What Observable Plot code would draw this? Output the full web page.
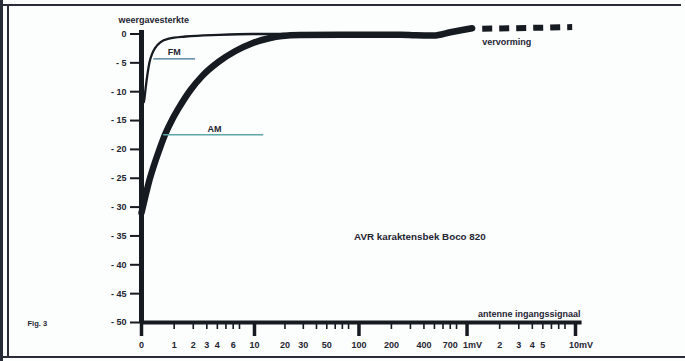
<!DOCTYPE html>
<html><head><meta charset="utf-8">
<script src="https://cdn.jsdelivr.net/npm/d3@7"></script>
<script src="https://cdn.jsdelivr.net/npm/@observablehq/plot@0.6"></script>
<style>
html,body{margin:0;padding:0;background:#fcfdfd;}
#wrap{position:relative;width:685px;height:361px;overflow:hidden;background:#fcfdfd;}
#wrap svg{position:absolute;left:0;top:0;}
.fr{position:absolute;background:#272c36;z-index:2;}
</style></head><body>
<div id="wrap">
<div class="fr" style="left:0;top:0;width:3px;height:361px"></div>
<div class="fr" style="left:7px;top:4px;width:1.5px;height:354px"></div>
<div class="fr" style="left:0;top:3.5px;width:681px;height:2px"></div>
<div class="fr" style="left:0;top:356px;width:685px;height:2px"></div>
</div>
<script>
// FM curve (antenna input in µV, relative output level in dB)
const fmX = [0, 0.05, 0.09, 0.13, 0.185, 0.255, 0.35, 0.5, 0.79, 1.55, 4.2, 9.5, 20];
const fmY = [-12, -11.8, -9.5, -7.2, -4.9, -3.4, -2.3, -1.4, -0.8, -0.43, -0.14, 0, 0];
// AM curve
const amX = [0, 0.09, 0.18, 0.29, 0.47, 0.66, 0.91, 1.21, 1.83, 2.62, 4.16, 6.35, 9.5, 14, 18.8, 28, 68, 243, 334, 493, 703, 932, 1115];
const amY = [-31, -28, -25.4, -23, -19.9, -17.3, -14.9, -12.8, -9.7, -7.3, -4.8, -2.95, -1.6, -0.73, -0.35, -0.19, -0.14, -0.12, -0.22, -0.26, 0.3, 0.73, 1.0];
// distortion region (dashed)
const distX = [1380, 9320];
const distY = [0.9, 1.2];
// axes
const yTicks = [0, -5, -10, -15, -20, -25, -30, -35, -40, -45, -50];
const xMajorTicks = [0, 10, 100, 1000, 10000];
const xMinorTicks = [1, 2, 3, 4, 5, 6, 7, 20, 30, 40, 50, 60, 70, 80, 200, 300, 400, 500, 600, 700, 800, 2000, 3000, 4000, 5000, 6000, 7000, 8000];
const xLabelTicks = [0, 1, 2, 3, 4, 6, 10, 20, 30, 50, 100, 200, 400, 700, 2000, 3000, 4000, 5000];
const xLabelText = ["0", "1", "2", "3", "4", "6", "10", "20", "30", "50", "100", "200", "400", "700", "2", "3", "4", "5"];
const mvTicks = [1000, 10000];
const mvText = ["1mV", "10mV"];

const ink = "#161a21";
const txt = "#1f2532";
const toPts = (xs, ys) => xs.map((x, i) => ({x, y: ys[i]}));
const lab = new Map(xLabelTicks.map((d, i) => [d, xLabelText[i]]));
const mvLab = new Map(mvTicks.map((d, i) => [d, mvText[i]]));

const plot = Plot.plot({
  width: 685, height: 361,
  marginLeft: 141, marginRight: 110, marginTop: 33.5, marginBottom: 39,
  x: {type: "symlog", constant: 1, domain: [0, 10000]},
  y: {domain: [-50, 0]},
  style: {fontFamily: "'Liberation Sans', Arial, sans-serif", fontSize: "9px", fontWeight: "bold", color: txt, background: "transparent", overflow: "visible"},
  marks: [
    Plot.axisY(yTicks, {tickSize: 11, tickPadding: 4, strokeWidth: 2, stroke: ink, fill: txt, tickFormat: d => d === 0 ? "0" : "- " + (-d), label: null}),
    Plot.axisX(xMinorTicks, {tickSize: 7, strokeWidth: 1.6, stroke: ink, tickFormat: () => "", label: null}),
    Plot.axisX(xMajorTicks, {tickSize: 14, strokeWidth: 3.5, stroke: ink, tickFormat: () => "", label: null}),
    Plot.axisX(xLabelTicks, {tickSize: 0, tickPadding: 19.5, fill: txt, tickFormat: d => lab.get(d), label: null}),
    Plot.axisX(mvTicks, {tickSize: 0, tickPadding: 19.5, fill: txt, dx: 5.5, tickFormat: d => mvLab.get(d), label: null}),
    Plot.ruleY([-50], {x1: 0, x2: 11500, stroke: ink, strokeWidth: 4}),
    Plot.ruleX([0], {y1: -50, y2: 0.6, stroke: ink, strokeWidth: 5}),
    Plot.line(toPts(amX, amY), {x: "x", y: "y", stroke: ink, strokeWidth: 6.5, curve: "monotone-x", strokeLinecap: "round"}),
    Plot.line(toPts(fmX, fmY), {x: "x", y: "y", stroke: ink, strokeWidth: 2.3, curve: "monotone-x"}),
    Plot.line(toPts(distX, distY), {x: "x", y: "y", stroke: ink, strokeWidth: 6, strokeDasharray: "10,7", strokeLinecap: "butt"}),
    Plot.ruleY([-4.3], {x1: 0.3, x2: 2.15, stroke: "#3f7290", strokeWidth: 1.3}),
    Plot.ruleY([-17.45], {x1: 0.6, x2: 12.4, stroke: "#5fa6a8", strokeWidth: 1.5}),
    Plot.text(["FM"], {x: 1, y: -4.3, dy: -7, fill: txt}),
    Plot.text(["AM"], {x: 3.7, y: -17.45, dy: -5.5, fill: txt}),
    Plot.text(["weergavesterkte"], {x: 0, y: 0, dx: -23, dy: -13.5, textAnchor: "start", fill: txt}),
    Plot.text(["vervorming"], {x: 1380, y: 0, dy: 8.2, textAnchor: "start", fill: txt}),
    Plot.text(["antenne ingangssignaal"], {x: 10000, y: -50, dx: 5, dy: -8, textAnchor: "end", fill: txt}),
    Plot.text(["AVR karaktensbek Boco 820"], {x: 90, y: -35.2, textAnchor: "start", fill: txt, fontSize: 9.8}),
    Plot.text(["Fig. 3"], {x: 0, y: -50, dx: -114, dy: 1, textAnchor: "start", fill: txt, fontSize: 7.5})
  ]
});
document.getElementById("wrap").prepend(plot);
</script>
</body></html>
